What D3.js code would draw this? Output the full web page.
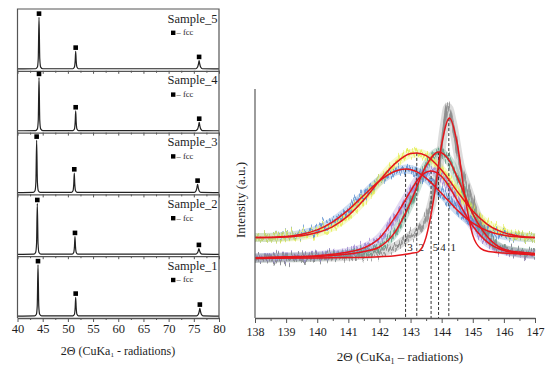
<!DOCTYPE html>
<html><head><meta charset="utf-8">
<script src="https://cdn.jsdelivr.net/npm/d3@7/dist/d3.min.js"></script>
<style>
html,body{margin:0;padding:0;background:#fff;}
svg{display:block;font-family:"Liberation Serif","DejaVu Serif",serif;}
</style></head>
<body>
<svg id="c" width="553" height="372"></svg>
<script>
// ---------- LEFT PANEL DATA (2θ, intensity a.u. per panel 0-100) ----------
const sampleNames = ["Sample_5","Sample_4","Sample_3","Sample_2","Sample_1"];
const xTicksLeft = [40,45,50,55,60,65,70,75,80];
const pattern5 = [[40,3],[43.6,3.3],[43.95,6],[44.12,20],[44.27,86.6],[44.42,20],[44.6,6],[45,3.3],
  [51.0,3.3],[51.3,6],[51.45,16],[51.55,31.6],[51.65,16],[51.8,6],[52.1,3.3],
  [75.4,3.3],[75.75,6],[75.92,11],[76.05,16.5],[76.18,11],[76.35,6],[76.7,3.3],[80,3]];
const pattern4 = [[40,3],[43.6,3.3],[43.95,6],[44.12,20],[44.27,89],[44.42,20],[44.6,6],[45,3.3],
  [51.0,3.3],[51.3,6],[51.45,17],[51.55,35],[51.65,17],[51.8,6],[52.1,3.3],
  [75.4,3.3],[75.77,6],[75.94,11],[76.07,16.5],[76.2,11],[76.37,6],[76.7,3.3],[80,3]];
const pattern3 = [[40,3],[43.1,3.3],[43.48,6],[43.65,20],[43.8,87.5],[43.95,20],[44.13,6],[44.5,3.3],
  [50.7,3.3],[51.02,6],[51.17,17],[51.27,34.6],[51.37,17],[51.52,6],[51.85,3.3],
  [75.1,3.3],[75.45,6],[75.62,11],[75.75,16.3],[75.88,11],[76.05,6],[76.4,3.3],[80,3]];
const pattern2 = [[40,3],[43.25,3.3],[43.6,6],[43.78,20],[43.93,85],[44.08,20],[44.26,6],[44.65,3.3],
  [50.85,3.3],[51.16,6],[51.31,16],[51.41,31.7],[51.51,16],[51.66,6],[51.95,3.3],
  [75.4,3.3],[75.73,5.5],[75.9,9],[76.01,12.3],[76.13,9],[76.3,5.5],[76.65,3.3],[80,3]];
const pattern1 = [[40,3],[43.4,3.3],[43.75,6],[43.92,20],[44.07,86],[44.22,20],[44.4,6],[44.8,3.3],
  [51.0,3.3],[51.3,6],[51.45,17],[51.55,33.5],[51.65,17],[51.8,6],[52.1,3.3],
  [75.55,3.3],[75.9,6],[76.07,10.5],[76.2,15.7],[76.33,10.5],[76.5,6],[76.85,3.3],[80,3]];
const patterns = [pattern5,pattern4,pattern3,pattern2,pattern1];
// fcc markers (peak position, marker height in panel units)
const marks5 = [[44.27,92.5],[51.55,37.5],[76.05,22.5]];
const marks4 = [[44.27,95],[51.55,41],[76.07,22.5]];
const marks3 = [[43.8,93.5],[51.27,40.6],[75.75,22.3]];
const marks2 = [[43.93,91],[51.41,37.7],[76.01,18.3]];
const marks1 = [[44.07,92],[51.55,39.5],[76.2,21.7]];
const marks = [marks5,marks4,marks3,marks2,marks1];

// ---------- RIGHT PANEL DATA ----------
const xTicksRight = [138,139,140,141,142,143,144,145,146,147];
const peakLabels = ["3","2","5","4","1"];
const peakCenters = [142.84,143.2,143.66,143.9,144.23];
const peakTops = [65.1,72.1,64.2,72.5,87.3];
const fit1 = [[138,26.0],[140,26.2],[141,26.4],[142,26.8],[142.5,27.2],[143,28.2],[143.25,28.9],[143.5,35.3],[143.75,52.3],[144,75.8],[144.25,87.3],[144.5,76.2],[144.75,52.8],[145,36.2],[145.25,30.4],[145.5,29.0],[146,28.4],[146.5,28.0],[147,27.6]];
const fit4 = [[138,26.2],[139,26.5],[140,26.9],[140.5,27.3],[141,27.9],[141.5,29.0],[142,31.0],[142.5,37.5],[143,50.5],[143.5,66.5],[143.9,72.5],[144.25,68.6],[144.5,61.5],[145,45.5],[145.5,35.0],[146,30.0],[146.5,28.8],[147,28.2]];
const fit5 = [[138,26.3],[139,26.7],[140,27.2],[140.5,27.8],[141,28.8],[141.5,30.6],[142,34.8],[142.5,44.0],[143,55.4],[143.25,60.7],[143.65,64.2],[144,61.8],[144.5,51.4],[145,40.2],[145.5,32.8],[146,29.5],[146.5,28.3],[147,27.6]];
const fit2 = [[138,35.1],[139,35.4],[139.5,35.9],[140,37.3],[140.5,39.9],[141,44.7],[141.5,51.6],[142,59.9],[142.5,67.4],[143,71.8],[143.2,72.1],[143.5,70.9],[144,64.5],[144.5,55.3],[145,46.7],[145.5,40.6],[146,37.3],[146.5,35.7],[147,35.2]];
const fit3 = [[138,35.1],[139,35.6],[139.5,36.6],[140,38.5],[140.5,42.0],[141,47.2],[141.5,53.6],[142,59.9],[142.5,64.1],[142.85,65.1],[143.25,63.5],[143.5,61.1],[144,54.4],[144.5,47.1],[145,41.4],[145.5,37.9],[146,36.1],[146.5,35.4],[147,35.1]];
const raw1 = [[138,26],[140,26.5],[141,27],[142,28.5],[142.5,31],[143,36],[143.3,39],[143.6,46],[143.9,65],[144.1,85],[144.2,92],[144.35,85],[144.6,66],[144.85,56],[145,50],[145.3,40],[145.6,33],[146,30],[146.5,28.5],[147,28]];
const rawSeries = [
  {data: fit4, color: "#5e9e86"},
  {data: fit5, color: "#9c84d2"},
  {data: fit3, color: "#5b8fcf"},
  {data: fit2, color: "#e4ee55"},
  {data: raw1, color: "#8a8a8a"}
];
const fits = [fit1, fit2, fit3, fit4, fit5];

// ---------- DRAW ----------
const svg = d3.select("#c");
const ink = "#1e1e1e";
const defs = svg.append("defs");
[["noiseA",7],["noiseB",23]].forEach(([id,seed]) => {
  const f = defs.append("filter").attr("id",id).attr("filterUnits","userSpaceOnUse")
    .attr("x",250).attr("y",80).attr("width",300).attr("height",250);
  f.append("feTurbulence").attr("type","fractalNoise").attr("baseFrequency","0.45 0.012").attr("numOctaves",2).attr("seed",seed).attr("result","t");
  f.append("feColorMatrix").attr("in","t").attr("type","matrix")
   .attr("values","0 0 0 0 0.5  0 1 0 0 0  0 0 0 0 0  0 0 0 0 1").attr("result","m");
  f.append("feDisplacementMap").attr("in","SourceGraphic").attr("in2","m").attr("scale",24)
   .attr("xChannelSelector","R").attr("yChannelSelector","G");
});

// Left panel
const L = {x0:17.5, x1:219, top:9, bottom:318};
const ph = (L.bottom - L.top)/5;
const xl = d3.scaleLinear().domain([40,80]).range([L.x0, L.x1]);
const gl = svg.append("g");
patterns.forEach((pat,i) => {
  const y0 = L.top + i*ph;
  const yl = d3.scaleLinear().domain([0,100]).range([y0+ph, y0]);
  const line = d3.line().x(d=>xl(d[0])).y(d=>yl(d[1])).curve(d3.curveMonotoneX);
  gl.append("path").attr("d", line(pat)).attr("fill","none").attr("stroke","#222").attr("stroke-width",1.2);
  gl.selectAll(null).data(marks[i]).enter().append("rect")
    .attr("x", d=>xl(d[0])-2.3).attr("y", d=>yl(d[1])-2.3).attr("width",4.6).attr("height",4.6).attr("fill","#000");
  const isLast = i===4;
  const ax = d3.axisBottom(xl).tickValues(xTicksLeft).tickSize(isLast?4:3).tickSizeOuter(0)
     .tickFormat(isLast ? d3.format("d") : "");
  const ga = gl.append("g").attr("transform",`translate(0,${y0+ph})`).call(ax);
  ga.select(".domain").attr("stroke","#555").attr("stroke-width",1.3);
  ga.selectAll(".tick line").attr("stroke","#555");
  ga.selectAll(".tick text").attr("font-family","Liberation Serif").attr("font-size",12.5).attr("fill",ink).attr("dy","0.9em").attr("y",4);
  const axm = d3.axisBottom(xl).tickValues(d3.range(42.5,80,5)).tickSize(2).tickSizeOuter(0).tickFormat("");
  const gm = gl.append("g").attr("transform",`translate(0,${y0+ph})`).call(axm);
  gm.select(".domain").remove();
  gm.selectAll(".tick line").attr("stroke","#555");
  gl.append("text").attr("x",217.5).attr("y",y0+13.5).attr("text-anchor","end")
    .attr("font-size",12.5).attr("fill",ink).text(sampleNames[i]);
  gl.append("rect").attr("x",171).attr("y",y0+21.6).attr("width",4.4).attr("height",4.4).attr("fill","#000");
  gl.append("text").attr("x",176.6).attr("y",y0+26.2).attr("font-size",8.5).attr("fill",ink).text("– fcc");
});
gl.append("path").attr("d",`M${L.x0},${L.bottom}V${L.top}H${L.x1}V${L.bottom}`).attr("fill","none").attr("stroke","#555").attr("stroke-width",1.2);
const tl = gl.append("text").attr("x",118).attr("y",354.5).attr("text-anchor","middle").attr("font-size",12).attr("fill",ink);
tl.append("tspan").text("2Θ (CuKa");
tl.append("tspan").attr("font-size",7).attr("dy",2).text("1");
tl.append("tspan").attr("dy",-2).text(" - radiations)");

// Right panel
const R = {x0:255, x1:535, top:89, bottom:318};
const xr = d3.scaleLinear().domain([138,147]).range([R.x0, R.x1]);
const yr = d3.scaleLinear().domain([0,100]).range([R.bottom, R.top]);
const gr = svg.append("g");
const lr = d3.line().x(d=>xr(d[0])).y(d=>yr(d[1])).curve(d3.curveMonotoneX);
rawSeries.forEach(s => {
  gr.append("path").attr("d", lr(s.data)).attr("fill","none").attr("stroke",s.color)
    .attr("stroke-width",9).attr("stroke-opacity",0.3);
});
["noiseA","noiseB"].forEach(id => {
  const gRaw = gr.append("g").attr("filter",`url(#${id})`);
  rawSeries.forEach(s => {
    gRaw.append("path").attr("d", lr(s.data)).attr("fill","none").attr("stroke",s.color)
      .attr("stroke-width",2.5).attr("stroke-opacity",0.75);
  });
});
peakCenters.forEach((c,i) => {
  gr.append("line").attr("x1",xr(c)).attr("x2",xr(c)).attr("y1",yr(peakTops[i])).attr("y2",R.bottom)
    .attr("stroke","#333").attr("stroke-width",1).attr("stroke-dasharray","3,2");
  gr.append("text").attr("x",xr(c)+1.6).attr("y",250.5).attr("font-size",11).attr("fill",ink).text(peakLabels[i]);
});
fits.forEach(ft => {
  gr.append("path").attr("d", lr(ft)).attr("fill","none").attr("stroke","#e5161c").attr("stroke-width",1.5);
});
gr.append("line").attr("x1",R.x0).attr("x2",R.x0).attr("y1",R.top).attr("y2",R.bottom).attr("stroke","#666").attr("stroke-width",1.3);
const axr = d3.axisBottom(xr).tickValues(xTicksRight).tickSize(5).tickSizeOuter(0).tickFormat(d3.format("d"));
const gar = gr.append("g").attr("transform",`translate(0,${R.bottom})`).call(axr);
gar.select(".domain").attr("stroke","#555").attr("stroke-width",1.3);
gar.selectAll(".tick line").attr("stroke","#555");
gar.selectAll(".tick text").attr("font-family","Liberation Serif").attr("font-size",12).attr("fill",ink).attr("y",7).attr("dy","0.9em");
const axrm = d3.axisBottom(xr).tickValues(d3.range(138.5,147,1)).tickSize(3).tickFormat("");
const garm = gr.append("g").attr("transform",`translate(0,${R.bottom})`).call(axrm);
garm.select(".domain").remove();
garm.selectAll(".tick line").attr("stroke","#555");
const tr = gr.append("text").attr("x",400).attr("y",361).attr("text-anchor","middle").attr("font-size",13).attr("fill",ink);
tr.append("tspan").text("2Θ (CuKa");
tr.append("tspan").attr("font-size",8).attr("dy",2.5).text("1");
tr.append("tspan").attr("dy",-2.5).text(" – radiations)");
gr.append("text").attr("transform","translate(245,200) rotate(-90)").attr("text-anchor","middle")
  .attr("font-size",13).attr("fill",ink).text("Intensity (a.u.)");
</script>
</body></html>
